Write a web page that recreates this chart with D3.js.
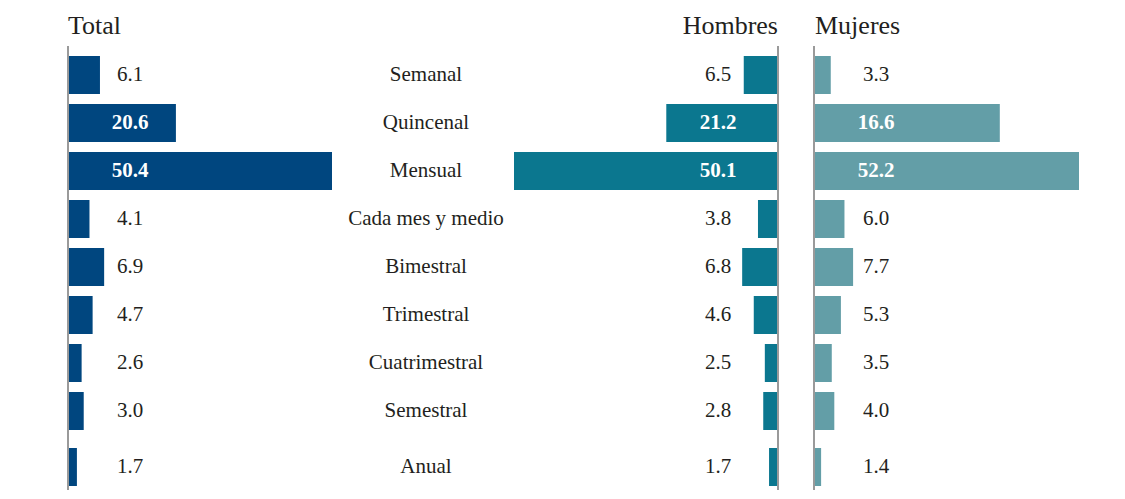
<!DOCTYPE html>
<html>
<head>
<meta charset="utf-8">
<script src="https://cdn.jsdelivr.net/npm/d3@7"></script>
<style>
  html, body { margin: 0; background: #fff; }
  svg text { font-family: "Liberation Serif", "DejaVu Serif", serif; fill: #231f20; }
</style>
</head>
<body>
<div id="chart"></div>
<script>
// Data
const categories = ["Semanal", "Quincenal", "Mensual", "Cada mes y medio", "Bimestral",
  "Trimestral", "Cuatrimestral", "Semestral", "Anual"];
const total   = [6.1, 20.6, 50.4, 4.1, 6.9, 4.7, 2.6, 3.0, 1.7];
const hombres = [6.5, 21.2, 50.1, 3.8, 6.8, 4.6, 2.5, 2.8, 1.7];
const mujeres = [3.3, 16.6, 52.2, 6.0, 7.7, 5.3, 3.5, 4.0, 1.4];
// the Quincenal bar for Mujeres is drawn longer than its label in the original
const mujeresBar = [3.3, 36.6, 52.2, 6.0, 7.7, 5.3, 3.5, 4.0, 1.4];

const W = 1125, H = 499;
const svg = d3.select("#chart").append("svg")
  .attr("width", W).attr("height", H);

// row bands: 48px step, 38px bars; the last row sits a bit lower, as in the original
const rowY = d3.scaleBand().domain(categories.slice(0, 8)).range([56, 430]).paddingInner(10 / 48).paddingOuter(0);
const step = rowY.step();
const barH = rowY.bandwidth();
const yTop = (c, i) => i < 8 ? rowY(c) : rowY(categories[7]) + step + 8;

const colors = { total: "#00467f", hombres: "#0b778f", mujeres: "#639ea7" };

const xTotal = d3.scaleLinear().domain([0, 50.4]).range([68, 332]);
const xHom   = d3.scaleLinear().domain([0, 50.1]).range([778, 514]);
const xMuj   = d3.scaleLinear().domain([0, 52.2]).range([814, 1079]);

function panel(vals, barVals, x, color, labelX, dir) {
  const g = svg.append("g");
  g.selectAll("rect").data(barVals).join("rect")
    .attr("x", d => dir > 0 ? x(0) + 1 : x(d))
    .attr("width", d => Math.abs(x(d) - x(0)) - 1)
    .attr("y", (d, i) => yTop(categories[i], i))
    .attr("height", barH)
    .attr("fill", color);
  g.selectAll("text").data(vals).join("text")
    .attr("x", labelX)
    .attr("y", (d, i) => yTop(categories[i], i) + barH / 2)
    .attr("dy", "0.28em")
    .attr("text-anchor", "middle")
    .style("font-size", "21px")
    .style("font-weight", d => d > 10 ? "bold" : "normal")
    .style("fill", d => d > 10 ? "#fff" : "#231f20")
    .text(d => d.toFixed(1));
  g.append("line")
    .attr("x1", x(0)).attr("x2", x(0))
    .attr("y1", 46).attr("y2", 490)
    .attr("stroke", "#9a9a9a").attr("stroke-width", 2);
}

panel(total, total, xTotal, colors.total, 130, 1);
panel(hombres, hombres, xHom, colors.hombres, 718, -1);
panel(mujeres, mujeresBar, xMuj, colors.mujeres, 876, 1);

// category labels
svg.append("g").selectAll("text").data(categories).join("text")
  .attr("x", 426)
  .attr("y", (d, i) => yTop(d, i) + barH / 2)
  .attr("dy", "0.28em")
  .attr("text-anchor", "middle")
  .style("font-size", "21px")
  .text(d => d);

// titles
const titles = [
  { t: "Total", x: 68, a: "start" },
  { t: "Hombres", x: 778, a: "end" },
  { t: "Mujeres", x: 815, a: "start" }
];
svg.append("g").selectAll("text").data(titles).join("text")
  .attr("x", d => d.x).attr("y", 34)
  .attr("text-anchor", d => d.a)
  .style("font-size", "26px")
  .text(d => d.t);
</script>
</body>
</html>
